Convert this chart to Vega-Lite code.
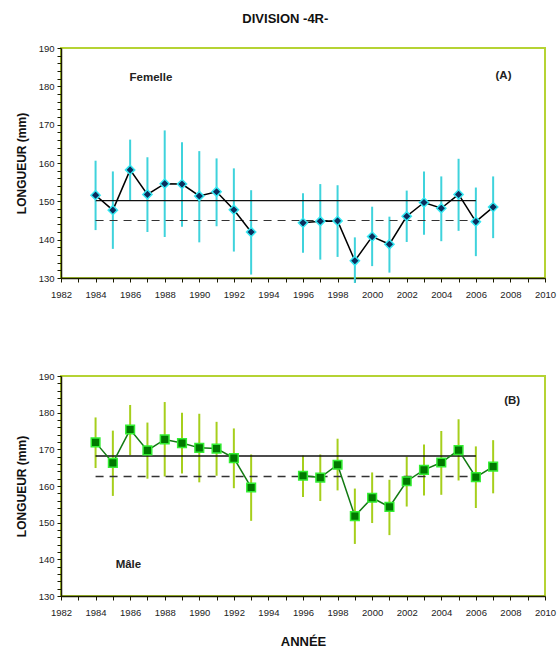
{
  "$schema": "https://vega.github.io/schema/vega-lite/v6.json",
  "padding": {"left": 14, "top": 13, "right": 8, "bottom": 0},
  "title": {"text": "DIVISION -4R-", "font": "Liberation Sans", "fontSize": 13, "fontWeight": "bold", "anchor": "middle", "offset": 16, "color": "#111"},
  "config": {
    "font": "Liberation Sans",
    "view": {"stroke": "#b5d334", "strokeWidth": 2},
    "axis": {"grid": false, "labelOverlap": false, "labelFlush": false, "tickCount": 100, "labelFont": "Liberation Sans", "labelFontSize": 9.5, "labelColor": "#222", "domainColor": "#1a1a00", "domainWidth": 1.5, "tickColor": "#1a1a00", "titleFont": "Liberation Sans", "titleFontSize": 12, "titleFontWeight": "bold", "titleColor": "#111"}
  },
  "datasets": {
    "fem": [
      {"annee": 1984, "periode": "a", "moy": 151.6, "bas": 142.5, "haut": 160.6},
      {"annee": 1985, "periode": "a", "moy": 147.7, "bas": 137.6, "haut": 157.8},
      {"annee": 1986, "periode": "a", "moy": 158.2, "bas": 150.3, "haut": 166.1},
      {"annee": 1987, "periode": "a", "moy": 151.8, "bas": 142.0, "haut": 161.5},
      {"annee": 1988, "periode": "a", "moy": 154.6, "bas": 140.7, "haut": 168.5},
      {"annee": 1989, "periode": "a", "moy": 154.5, "bas": 143.4, "haut": 165.4},
      {"annee": 1990, "periode": "a", "moy": 151.4, "bas": 139.3, "haut": 163.1},
      {"annee": 1991, "periode": "a", "moy": 152.5, "bas": 143.5, "haut": 161.2},
      {"annee": 1992, "periode": "a", "moy": 147.8, "bas": 136.9, "haut": 158.6},
      {"annee": 1993, "periode": "a", "moy": 142.0, "bas": 130.9, "haut": 152.9},
      {"annee": 1996, "periode": "b", "moy": 144.4, "bas": 136.6, "haut": 152.1},
      {"annee": 1997, "periode": "b", "moy": 144.8, "bas": 134.8, "haut": 154.5},
      {"annee": 1998, "periode": "b", "moy": 144.9, "bas": 135.5, "haut": 154.2},
      {"annee": 1999, "periode": "b", "moy": 134.5, "bas": 128.7, "haut": 140.6},
      {"annee": 2000, "periode": "b", "moy": 140.8, "bas": 133.1, "haut": 148.6},
      {"annee": 2001, "periode": "b", "moy": 138.8, "bas": 131.4, "haut": 146.0},
      {"annee": 2002, "periode": "b", "moy": 146.1, "bas": 139.4, "haut": 152.8},
      {"annee": 2003, "periode": "b", "moy": 149.7, "bas": 141.3, "haut": 157.8},
      {"annee": 2004, "periode": "b", "moy": 148.2, "bas": 139.6, "haut": 156.5},
      {"annee": 2005, "periode": "b", "moy": 151.8, "bas": 142.3, "haut": 161.1},
      {"annee": 2006, "periode": "b", "moy": 144.7, "bas": 135.7, "haut": 153.6},
      {"annee": 2007, "periode": "b", "moy": 148.5, "bas": 140.4, "haut": 156.5}
    ],
    "male": [
      {"annee": 1984, "periode": "a", "moy": 171.9, "bas": 164.9, "haut": 178.7},
      {"annee": 1985, "periode": "a", "moy": 166.3, "bas": 157.3, "haut": 175.1},
      {"annee": 1986, "periode": "a", "moy": 175.4, "bas": 168.4, "haut": 182.1},
      {"annee": 1987, "periode": "a", "moy": 169.7, "bas": 162.0, "haut": 177.3},
      {"annee": 1988, "periode": "a", "moy": 172.7, "bas": 162.6, "haut": 182.9},
      {"annee": 1989, "periode": "a", "moy": 171.7, "bas": 163.4, "haut": 180.0},
      {"annee": 1990, "periode": "a", "moy": 170.4, "bas": 161.0, "haut": 179.7},
      {"annee": 1991, "periode": "a", "moy": 170.2, "bas": 162.8, "haut": 177.5},
      {"annee": 1992, "periode": "a", "moy": 167.6, "bas": 159.4, "haut": 175.7},
      {"annee": 1993, "periode": "a", "moy": 159.6, "bas": 150.5, "haut": 168.6},
      {"annee": 1996, "periode": "b", "moy": 162.8, "bas": 157.0, "haut": 168.3},
      {"annee": 1997, "periode": "b", "moy": 162.3, "bas": 155.9, "haut": 168.6},
      {"annee": 1998, "periode": "b", "moy": 165.8, "bas": 158.8, "haut": 172.9},
      {"annee": 1999, "periode": "b", "moy": 151.8, "bas": 144.2, "haut": 159.3},
      {"annee": 2000, "periode": "b", "moy": 156.8, "bas": 149.9, "haut": 163.7},
      {"annee": 2001, "periode": "b", "moy": 154.3, "bas": 146.6, "haut": 161.7},
      {"annee": 2002, "periode": "b", "moy": 161.3, "bas": 154.4, "haut": 168.0},
      {"annee": 2003, "periode": "b", "moy": 164.4, "bas": 157.4, "haut": 171.3},
      {"annee": 2004, "periode": "b", "moy": 166.4, "bas": 157.6, "haut": 175.0},
      {"annee": 2005, "periode": "b", "moy": 169.8, "bas": 161.5, "haut": 178.2},
      {"annee": 2006, "periode": "b", "moy": 162.4, "bas": 154.0, "haut": 170.8},
      {"annee": 2007, "periode": "b", "moy": 165.3, "bas": 158.0, "haut": 172.5}
    ],
    "moyennes_fem": [
      {"type": "plein", "debut": 1984, "fin": 2006, "val": 150.2},
      {"type": "tirets", "debut": 1984, "fin": 2006, "val": 145.0}
    ],
    "moyennes_male": [
      {"type": "plein", "debut": 1984, "fin": 2006, "val": 168.2},
      {"type": "tirets", "debut": 1984, "fin": 2006, "val": 162.6}
    ],
    "etiquettes_fem": [
      {"texte": "Femelle", "annee": 1987.2, "val": 182.2},
      {"texte": "(A)", "annee": 2007.6, "val": 182.6}
    ],
    "etiquettes_male": [
      {"texte": "Mâle", "annee": 1985.9, "val": 138.5},
      {"texte": "(B)", "annee": 2008.1, "val": 183.2}
    ]
  },
  "spacing": 70,
  "vconcat": [
    {
      "width": 484,
      "height": 230,
      "layer": [
        {
          "data": {"name": "fem"},
          "mark": {"type": "rule", "color": "#3fd3dc", "strokeWidth": 2},
          "encoding": {
            "x": {"field": "annee", "type": "quantitative", "scale": {"domain": [1982, 2010], "nice": false, "zero": false},
                  "axis": {"title": null, "values": [1982,1983,1984,1985,1986,1987,1988,1989,1990,1991,1992,1993,1994,1995,1996,1997,1998,1999,2000,2001,2002,2003,2004,2005,2006,2007,2008,2009,2010], "format": "d", "labelExpr": "datum.value % 2 === 0 ? datum.label : ''", "tickSize": 4, "labelPadding": 7}},
            "y": {"field": "bas", "type": "quantitative", "scale": {"domain": [130, 190], "nice": false, "zero": false},
                  "axis": {"title": "LONGUEUR (mm)", "values": [130,132,134,136,138,140,142,144,146,148,150,152,154,156,158,160,162,164,166,168,170,172,174,176,178,180,182,184,186,188,190], "format": "d", "labelExpr": "datum.value % 10 === 0 ? datum.label : ''", "tickSize": 4, "labelPadding": 3, "titlePadding": 10}},
            "y2": {"field": "haut"}
          }
        },
        {
          "data": {"name": "moyennes_fem"},
          "mark": {"type": "rule", "strokeWidth": 1.2},
          "encoding": {
            "x": {"field": "debut", "type": "quantitative"},
            "x2": {"field": "fin"},
            "y": {"field": "val", "type": "quantitative"},
            "color": {"field": "type", "type": "nominal", "scale": {"domain": ["plein", "tirets"], "range": ["#111111", "#333333"]}, "legend": null},
            "strokeDash": {"field": "type", "type": "nominal", "scale": {"domain": ["plein", "tirets"], "range": [[1, 0], [8, 6]]}, "legend": null}
          }
        },
        {
          "data": {"name": "fem"},
          "mark": {"type": "line", "color": "#000000", "strokeWidth": 1.5},
          "encoding": {
            "x": {"field": "annee", "type": "quantitative"},
            "y": {"field": "moy", "type": "quantitative"},
            "detail": {"field": "periode"}
          }
        },
        {
          "data": {"name": "fem"},
          "mark": {"type": "point", "shape": "diamond", "size": 85, "filled": true, "fill": "#0b2d5c", "stroke": "#35e8f2", "strokeWidth": 1.5, "opacity": 1},
          "encoding": {
            "x": {"field": "annee", "type": "quantitative"},
            "y": {"field": "moy", "type": "quantitative"}
          }
        },
        {
          "data": {"name": "etiquettes_fem"},
          "mark": {"type": "text", "font": "Liberation Sans", "fontSize": 11.5, "fontWeight": "bold", "color": "#222"},
          "encoding": {
            "x": {"field": "annee", "type": "quantitative"},
            "y": {"field": "val", "type": "quantitative"},
            "text": {"field": "texte"}
          }
        }
      ]
    },
    {
      "width": 484,
      "height": 220,
      "layer": [
        {
          "data": {"name": "male"},
          "mark": {"type": "rule", "color": "#a6cf1c", "strokeWidth": 2},
          "encoding": {
            "x": {"field": "annee", "type": "quantitative", "scale": {"domain": [1982, 2010], "nice": false, "zero": false},
                  "axis": {"title": "ANNÉE", "titleFontSize": 13, "titlePadding": 19, "values": [1982,1983,1984,1985,1986,1987,1988,1989,1990,1991,1992,1993,1994,1995,1996,1997,1998,1999,2000,2001,2002,2003,2004,2005,2006,2007,2008,2009,2010], "format": "d", "labelExpr": "datum.value % 2 === 0 ? datum.label : ''", "tickSize": 4, "labelPadding": 7}},
            "y": {"field": "bas", "type": "quantitative", "scale": {"domain": [130, 190], "nice": false, "zero": false},
                  "axis": {"title": "LONGUEUR (mm)", "values": [130,132,134,136,138,140,142,144,146,148,150,152,154,156,158,160,162,164,166,168,170,172,174,176,178,180,182,184,186,188,190], "format": "d", "labelExpr": "datum.value % 10 === 0 ? datum.label : ''", "tickSize": 4, "labelPadding": 3, "titlePadding": 10}},
            "y2": {"field": "haut"}
          }
        },
        {
          "data": {"name": "moyennes_male"},
          "mark": {"type": "rule", "strokeWidth": 1.5},
          "encoding": {
            "x": {"field": "debut", "type": "quantitative"},
            "x2": {"field": "fin"},
            "y": {"field": "val", "type": "quantitative"},
            "color": {"field": "type", "type": "nominal", "scale": {"domain": ["plein", "tirets"], "range": ["#6a6a6a", "#6a6a6a"]}, "legend": null},
            "strokeDash": {"field": "type", "type": "nominal", "scale": {"domain": ["plein", "tirets"], "range": [[1, 0], [8, 6]]}, "legend": null}
          }
        },
        {
          "data": {"name": "male"},
          "mark": {"type": "line", "color": "#127a12", "strokeWidth": 1.5},
          "encoding": {
            "x": {"field": "annee", "type": "quantitative"},
            "y": {"field": "moy", "type": "quantitative"},
            "detail": {"field": "periode"}
          }
        },
        {
          "data": {"name": "male"},
          "mark": {"type": "point", "shape": "square", "size": 75, "filled": true, "fill": "#007800", "stroke": "#33ee33", "strokeWidth": 1.5, "opacity": 1},
          "encoding": {
            "x": {"field": "annee", "type": "quantitative"},
            "y": {"field": "moy", "type": "quantitative"}
          }
        },
        {
          "data": {"name": "etiquettes_male"},
          "mark": {"type": "text", "font": "Liberation Sans", "fontSize": 11.5, "fontWeight": "bold", "color": "#222"},
          "encoding": {
            "x": {"field": "annee", "type": "quantitative"},
            "y": {"field": "val", "type": "quantitative"},
            "text": {"field": "texte"}
          }
        }
      ]
    }
  ]
}
